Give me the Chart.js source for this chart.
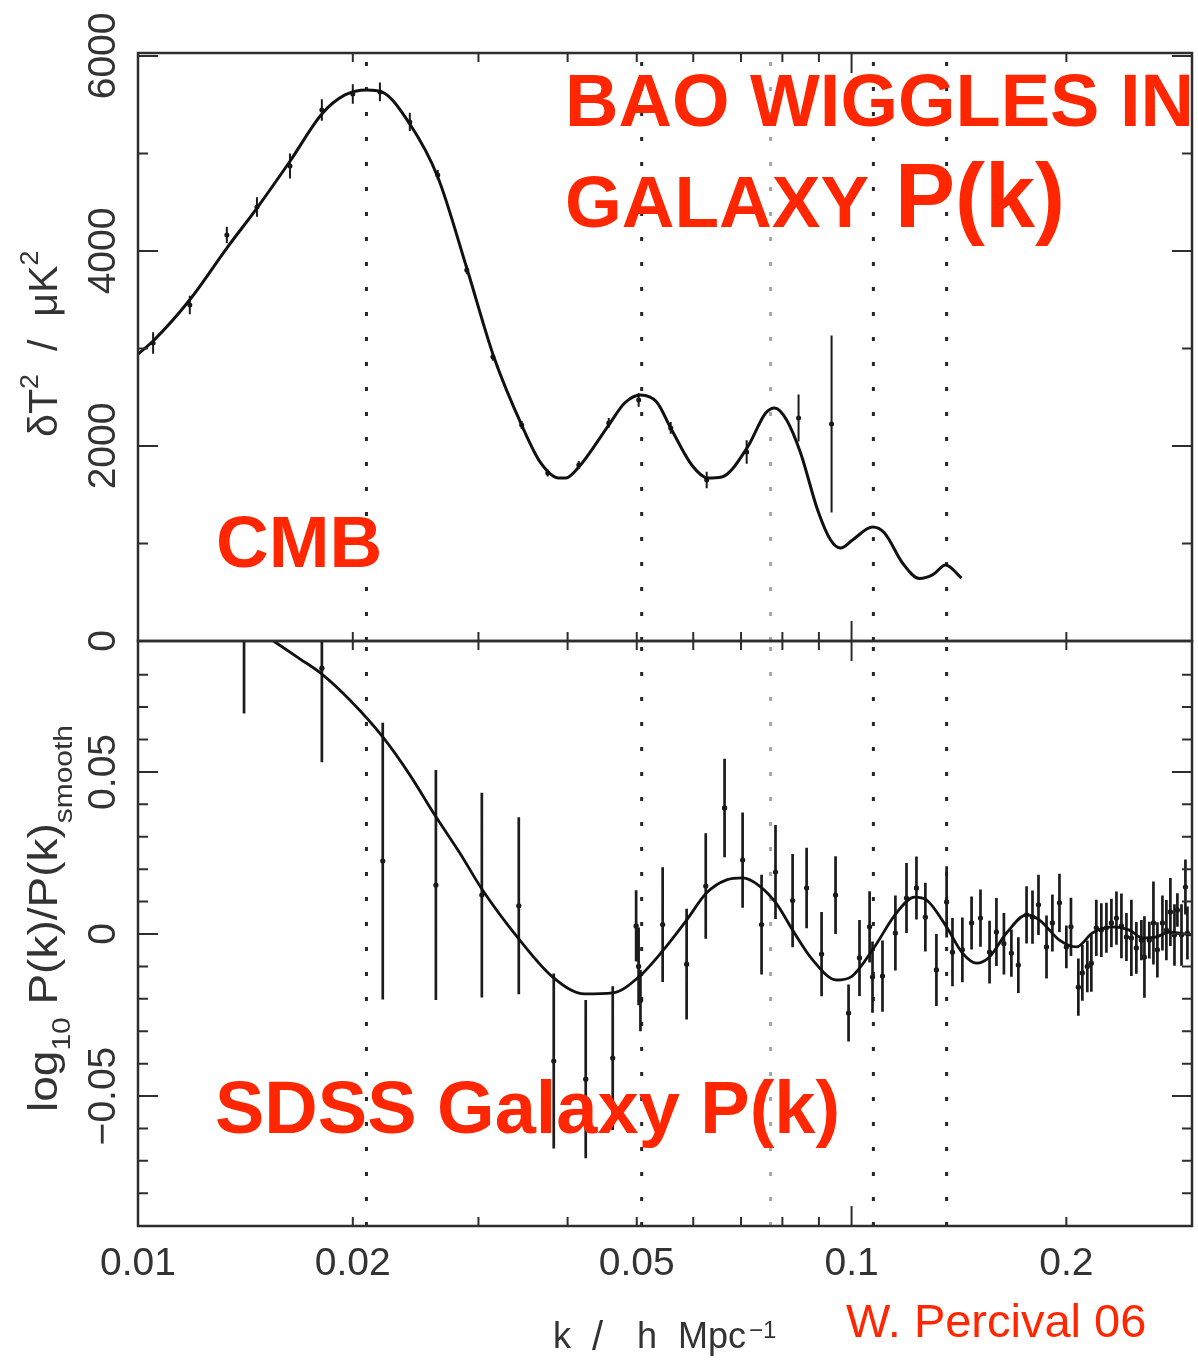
<!DOCTYPE html>
<html>
<head>
<meta charset="utf-8">
<script src="https://cdn.jsdelivr.net/npm/chart.js@4.4.1/dist/chart.umd.min.js"></script>
<style>
  body { margin: 0; background: #fff; }
  #wrap { position: relative; width: 1198px; height: 1360px; }
  #wrap canvas { position: absolute; left: 0; top: 0; }
</style>
</head>
<body>
<div id="wrap">
  <canvas id="cmbChart" width="1198" height="1360"></canvas>
  <canvas id="sdssChart" width="1198" height="1360"></canvas>
</div>
<script>
// --- Datos (k en h/Mpc) ---

// Panel CMB: curva del modelo
const cmbCurvaK = [0.0100, 0.0105, 0.01182, 0.01332, 0.01468, 0.01633, 0.0181, 0.0195, 0.02093, 0.02196,
    0.02404, 0.02631, 0.02889, 0.03153, 0.03449, 0.03668, 0.03887, 0.03978, 0.04148, 0.04568,
    0.04809, 0.05064, 0.05332, 0.05579, 0.05971, 0.06286, 0.06577, 0.07151, 0.0758, 0.07803,
    0.0811, 0.08484, 0.08963, 0.09346, 0.09652, 0.10032, 0.107, 0.11122, 0.11788, 0.1245,
    0.1300, 0.13541, 0.14259];
const cmbCurvaV = [2943, 3077, 3500, 4030, 4440, 4920, 5405, 5600, 5651, 5631,
    5302, 4759, 3825, 2913, 2215, 1826, 1672, 1672, 1785, 2215,
    2441, 2523, 2451, 2185, 1805, 1672, 1682, 1990, 2338, 2390,
    2267, 1928, 1344, 1036, 954, 1036, 1169, 1108, 800, 640,
    680, 779, 646];

// Panel CMB: puntos con barras de error
const cmbPuntosK = [0.0105, 0.01182, 0.01332, 0.01468, 0.01633, 0.0181, 0.0200, 0.02183, 0.02404, 0.02631,
    0.02889, 0.03143, 0.03449, 0.03752, 0.04147, 0.04568, 0.05031, 0.05579, 0.06266, 0.07129,
    0.08428, 0.09376];
const cmbPuntosV = [3056, 3446, 4164, 4451, 4872, 5446, 5610, 5631, 5323, 4779,
    3805, 2913, 2215, 1723, 1805, 2236, 2472, 2185, 1651, 1938,
    2287, 2226];
const cmbErrores = [110, 94, 85, 100, 128, 110, 100, 97, 94, 50,
    45, 40, 40, 35, 40, 50, 70, 60, 85, 120,
    241, 908];

// Panel SDSS: curva del modelo
const sdssCurvaK = [0.01541, 0.01686, 0.0181, 0.01981, 0.02203, 0.02404, 0.02606, 0.02825, 0.03033, 0.03428,
    0.03813, 0.04227, 0.04627, 0.05047, 0.05436, 0.05873, 0.06265, 0.06683, 0.07036, 0.07432,
    0.07852, 0.08268, 0.0882, 0.09528, 0.09972, 0.107, 0.11561, 0.12253, 0.12735, 0.13584,
    0.14305, 0.14969, 0.15608, 0.16487, 0.17588, 0.18341, 0.19562, 0.20662, 0.21753, 0.23207,
    0.24513, 0.25563, 0.26744, 0.27889, 0.2995];
const sdssCurvaV = [0.0907, 0.0849, 0.0802, 0.0722, 0.0608, 0.0491, 0.0367, 0.0250, 0.0139, -0.0019,
    -0.0133, -0.0185, -0.0182, -0.0130, -0.0052, 0.0043, 0.0127, 0.0167, 0.0173, 0.0148,
    0.0093, 0.0012, -0.0080, -0.0142, -0.0133, -0.0049, 0.0065, 0.0114, 0.0105, 0.0022,
    -0.0059, -0.0090, -0.0071, 0.0003, 0.0059, 0.0043, -0.0019, -0.0040, 0.0003, 0.0022,
    0.0012, -0.0012, -0.0009, 0.0006, -0.0003];

// Panel SDSS: puntos con barras de error
const sdssPuntosK = [0.01408, 0.0181, 0.02203, 0.02615, 0.03033, 0.03417, 0.03825, 0.04241, 0.04627, 0.0499,
    0.0503, 0.0506, 0.05436, 0.05873, 0.06247, 0.06638, 0.07036, 0.0748, 0.07824, 0.08268,
    0.0865, 0.09078, 0.09497, 0.09904, 0.1026, 0.1060, 0.1070, 0.1105, 0.1152, 0.1194,
    0.1233, 0.1269, 0.1315, 0.1359, 0.1385, 0.1430, 0.1473, 0.1516, 0.1561, 0.1596,
    0.1635, 0.1675, 0.1713, 0.1759, 0.1793, 0.1828, 0.1876, 0.1912, 0.1956, 0.2000,
    0.2030, 0.2079, 0.2106, 0.2140, 0.2168, 0.2203, 0.2239, 0.2276, 0.2313, 0.2351,
    0.2389, 0.2428, 0.2467, 0.2507, 0.2548, 0.2573, 0.2614, 0.2649, 0.2683, 0.2727,
    0.2762, 0.2798, 0.2835, 0.2862, 0.2900, 0.2937, 0.2956];
const sdssPuntosV = [0.100, 0.082, 0.0225, 0.0151, 0.0120, 0.0087, -0.0392, -0.0448, -0.0383, 0.0025,
    -0.0100, -0.0205, 0.0029, -0.0093, 0.0148, 0.0389, 0.0228, 0.0029, 0.0191, 0.0103,
    0.0142, -0.0062, 0.0120, -0.0244, -0.0074, 0.0022, -0.0133, -0.0130, 0.0003, 0.0111,
    0.0142, 0.0052, -0.0111, 0.0099, -0.0056, -0.0049, 0.0034, 0.0049, -0.0056, 0.0006,
    -0.0030, -0.0059, -0.0096, 0.0059, 0.0052, 0.0090, -0.0040, 0.0034, 0.0096, -0.0040,
    0.0022, -0.0164, -0.0120, -0.0100, -0.0090, 0.0019, 0.0012, 0.0019, 0.0034, 0.0049,
    0.0025, -0.0009, -0.0012, -0.0043, -0.0019, -0.0071, -0.0019, 0.0034, -0.0049, 0.0034,
    0.0012, 0.0068, -0.0003, 0.0074, -0.0003, 0.0145, 0.0003];
const sdssErrores = [0.032, 0.029, 0.0427, 0.0355, 0.0316, 0.0273, 0.0270, 0.0244, 0.0222, 0.0110,
    0.0120, 0.0095, 0.0177, 0.0171, 0.0163, 0.0152, 0.0147, 0.0154, 0.0145, 0.0144,
    0.0124, 0.0130, 0.0120, 0.0088, 0.0117, 0.0110, 0.0110, 0.0110, 0.0116, 0.0108,
    0.0097, 0.0106, 0.0111, 0.0110, 0.0105, 0.0100, 0.0082, 0.0088, 0.0097, 0.0105,
    0.0095, 0.0073, 0.0086, 0.0088, 0.0082, 0.0093, 0.0097, 0.0088, 0.0090, 0.0066,
    0.0090, 0.0088, 0.0086, 0.0080, 0.0088, 0.0087, 0.0083, 0.0077, 0.0075, 0.0082,
    0.0100, 0.0074, 0.0118, 0.0080, 0.0062, 0.0126, 0.0057, 0.0128, 0.0085, 0.0085,
    0.0093, 0.0105, 0.0095, 0.0052, 0.0095, 0.0085, 0.0082];

// Líneas punteadas verticales (la tercera es gris)
const lineasBao = [0.0209, 0.0508, 0.0770, 0.1073, 0.1359];

// Ejes
const ticksXValores = [0.01, 0.02, 0.05, 0.1, 0.2];
const ticksXEtiquetas = ['0.01', '0.02', '0.05', '0.1', '0.2'];
const ticksXMenores = [0.02, 0.03, 0.04, 0.05, 0.06, 0.07, 0.08, 0.09, 0.2];
const ticksXMayores = [0.1];

const ticksCmbValores = [0, 2000, 4000, 6000];
const ticksCmbEtiquetas = ['0', '2000', '4000', '6000'];
const ticksCmbMenores = [1000, 3000, 5000];

const ticksSdssValores = [-0.05, 0, 0.05];
const ticksSdssEtiquetas = ['\u22120.05', '0', '0.05'];
const ticksSdssMenores = [-0.08, -0.07, -0.06, -0.04, -0.03, -0.02, -0.01, 0.01, 0.02, 0.03, 0.04, 0.06, 0.07, 0.08];

const FUENTE = '"Liberation Sans", Arial, Helvetica, sans-serif';
const ROJO = '#ff2600';
const GRIS_EJE = '#2e2e2e';
const GRIS_TEXTO = '#333333';

// Armado de datasets
function armarPuntos(ks, vs) {
    return ks.map((k, i) => ({ x: k, y: vs[i] }));
}

// Cada barra es un tramo vertical; el null corta la línea entre barras
function armarBarras(ks, vs, errs) {
    const datos = [];
    ks.forEach((k, i) => {
        datos.push({ x: k, y: vs[i] - errs[i] }, { x: k, y: vs[i] + errs[i] }, { x: k, y: null });
    });
    return datos;
}

function armarLineasBao(min, max) {
    return lineasBao.map((k, i) => ({
        type: 'line',
        data: [{ x: k, y: min }, { x: k, y: max }],
        borderColor: i === 2 ? '#a6a6a6' : '#262626',
        borderWidth: 3,
        borderDash: [4, 21],
        pointRadius: 0,
        fill: false
    }));
}

// Texto girado 90° (se lee de abajo hacia arriba), en tramos con sub/superíndices
function textoVertical(ctx, partes, xBase, yInicio, escala) {
    ctx.save();
    ctx.translate(xBase, yInicio);
    ctx.rotate(-Math.PI / 2);
    ctx.scale(escala, 1);
    ctx.textAlign = 'left';
    let u = 0;
    partes.forEach(p => {
        ctx.font = p.tam + 'px ' + FUENTE;
        ctx.fillText(p.t, u, p.dy || 0);
        u += ctx.measureText(p.t).width;
    });
    ctx.restore();
}

function texto(ctx, t, x, y, fuente, color) {
    ctx.font = fuente;
    ctx.fillStyle = color;
    ctx.textAlign = 'left';
    ctx.fillText(t, x, y);
}

// Marco con marcas hacia adentro en los cuatro lados + etiquetas del eje y
function crearMarco(cfg) {
    return {
        id: 'marco' + cfg.nombre,
        afterDatasetsDraw(chart) {
            const ctx = chart.ctx;
            const a = chart.chartArea;
            const sx = chart.scales.x;
            const sy = chart.scales.y;
            ctx.save();
            ctx.strokeStyle = GRIS_EJE;
            ctx.lineWidth = 2;
            ctx.beginPath();
            const marcaX = (v, largo) => {
                const px = sx.getPixelForValue(v);
                ctx.moveTo(px, a.top); ctx.lineTo(px, a.top + largo);
                ctx.moveTo(px, a.bottom); ctx.lineTo(px, a.bottom - largo);
            };
            const marcaY = (v, largo) => {
                const py = sy.getPixelForValue(v);
                ctx.moveTo(a.left, py); ctx.lineTo(a.left + largo, py);
                ctx.moveTo(a.right, py); ctx.lineTo(a.right - largo, py);
            };
            ticksXMenores.forEach(v => marcaX(v, 9));
            ticksXMayores.forEach(v => marcaX(v, 20));
            cfg.yMenores.forEach(v => marcaY(v, 10));
            cfg.yValores.forEach(v => marcaY(v, 20));
            ctx.stroke();
            ctx.lineWidth = 2.5;
            ctx.strokeRect(a.left, a.top, a.right - a.left, a.bottom - a.top);

            ctx.fillStyle = GRIS_TEXTO;
            ctx.font = '39px ' + FUENTE;
            ctx.textAlign = 'center';
            cfg.yValores.forEach((v, i) => {
                ctx.save();
                ctx.translate(115, sy.getPixelForValue(v));
                ctx.rotate(-Math.PI / 2);
                ctx.fillText(cfg.yEtiquetas[i], 0, 0);
                ctx.restore();
            });
            cfg.textos(ctx, chart);
            ctx.restore();
        }
    };
}

function opcionesPanel(yMin, yMax, arriba, abajo) {
    return {
        responsive: false,
        animation: false,
        devicePixelRatio: 1,
        events: [],
        layout: { padding: { left: 138, right: 6, top: arriba, bottom: abajo } },
        plugins: { legend: { display: false }, tooltip: { enabled: false } },
        scales: {
            x: { type: 'logarithmic', min: 0.01, max: 0.3, display: false },
            y: { type: 'linear', min: yMin, max: yMax, display: false }
        }
    };
}

// --- Panel superior: CMB ---
const cmbMax = 6030;
new Chart(document.getElementById('cmbChart'), {
    type: 'scatter',
    data: {
        datasets: [
            { type: 'line', data: armarPuntos(cmbCurvaK, cmbCurvaV), borderColor: '#111', borderWidth: 3,
              pointRadius: 0, cubicInterpolationMode: 'monotone', fill: false },
            { type: 'line', data: armarBarras(cmbPuntosK, cmbPuntosV, cmbErrores), borderColor: '#1a1a1a',
              borderWidth: 2, pointRadius: 0, tension: 0, spanGaps: false },
            { type: 'scatter', data: armarPuntos(cmbPuntosK, cmbPuntosV), backgroundColor: '#111',
              borderWidth: 0, pointRadius: 2.5 },
            ...armarLineasBao(0, cmbMax)
        ]
    },
    options: opcionesPanel(0, cmbMax, 53, 719),
    plugins: [crearMarco({
        nombre: 'Cmb',
        yValores: ticksCmbValores,
        yEtiquetas: ticksCmbEtiquetas,
        yMenores: ticksCmbMenores,
        textos(ctx) {
            texto(ctx, 'BAO WIGGLES IN', 565, 126, 'bold 74px ' + FUENTE, ROJO);
            texto(ctx, 'GALAXY', 565, 227, 'bold 73px ' + FUENTE, ROJO);
            texto(ctx, 'P(k)', 895, 227, 'bold 90px ' + FUENTE, ROJO);
            texto(ctx, 'CMB', 216, 567, 'bold 73px ' + FUENTE, ROJO);
            ctx.fillStyle = GRIS_TEXTO;
            textoVertical(ctx, [
                { t: '\u03b4T', tam: 40 },
                { t: '2', tam: 26, dy: -19 },
                { t: '  /  ', tam: 40 },
                { t: '\u03bcK', tam: 40 },
                { t: '2', tam: 26, dy: -19 }
            ], 57, 437, 1.03);
        }
    })]
});

// --- Panel inferior: SDSS ---
const sdssMin = -0.0901;
const sdssMax = 0.0904;
new Chart(document.getElementById('sdssChart'), {
    type: 'scatter',
    data: {
        datasets: [
            { type: 'line', data: armarPuntos(sdssCurvaK, sdssCurvaV), borderColor: '#111', borderWidth: 2.8,
              pointRadius: 0, cubicInterpolationMode: 'monotone', fill: false },
            { type: 'line', data: armarBarras(sdssPuntosK, sdssPuntosV, sdssErrores), borderColor: '#1c1c1c',
              borderWidth: 2.7, pointRadius: 0, tension: 0, spanGaps: false },
            { type: 'scatter', data: armarPuntos(sdssPuntosK, sdssPuntosV), backgroundColor: '#111',
              borderWidth: 0, pointRadius: 2.6 },
            ...armarLineasBao(sdssMin, sdssMax)
        ]
    },
    options: opcionesPanel(sdssMin, sdssMax, 641, 134),
    plugins: [crearMarco({
        nombre: 'Sdss',
        yValores: ticksSdssValores,
        yEtiquetas: ticksSdssEtiquetas,
        yMenores: ticksSdssMenores,
        textos(ctx, chart) {
            // etiquetas del eje x
            const sx = chart.scales.x;
            ctx.fillStyle = GRIS_TEXTO;
            ctx.font = '39px ' + FUENTE;
            ctx.textAlign = 'center';
            ticksXValores.forEach((v, i) => ctx.fillText(ticksXEtiquetas[i], sx.getPixelForValue(v), 1275));

            // título del eje x: k / h Mpc^-1
            texto(ctx, 'k', 553, 1348, '36px ' + FUENTE, GRIS_TEXTO);
            texto(ctx, '/', 592, 1350, '40px ' + FUENTE, GRIS_TEXTO);
            texto(ctx, 'h', 637, 1348, '36px ' + FUENTE, GRIS_TEXTO);
            texto(ctx, 'Mpc', 678, 1348, '36px ' + FUENTE, GRIS_TEXTO);
            texto(ctx, '\u22121', 749, 1338, '24px ' + FUENTE, GRIS_TEXTO);

            // título del eje y
            ctx.fillStyle = GRIS_TEXTO;
            textoVertical(ctx, [
                { t: 'log', tam: 40 },
                { t: '10', tam: 26, dy: 13 },
                { t: ' P(k)/P(k)', tam: 40 },
                { t: 'smooth', tam: 26, dy: 15 }
            ], 57, 1112, 1.15);

            texto(ctx, 'SDSS Galaxy P(k)', 215, 1133, 'bold 74px ' + FUENTE, ROJO);
            texto(ctx, 'W. Percival 06', 846, 1337, '47px ' + FUENTE, ROJO);
        }
    })]
});
</script>
</body>
</html>
